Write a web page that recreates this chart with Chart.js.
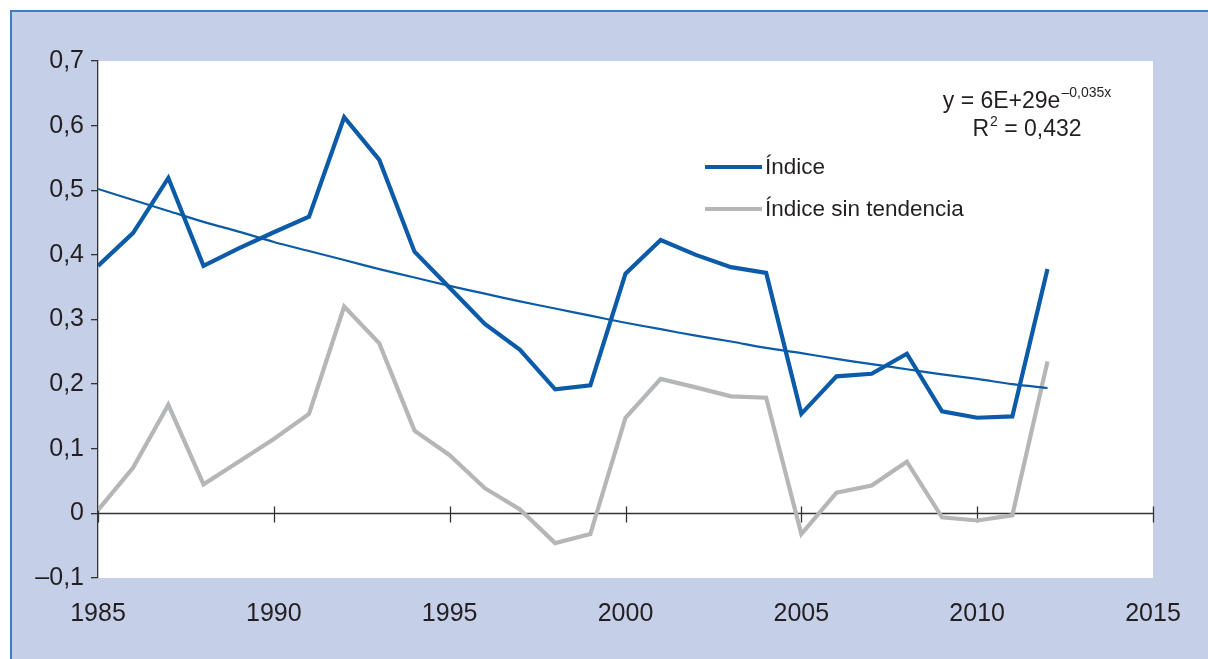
<!DOCTYPE html>
<html>
<head>
<meta charset="utf-8">
<script src="https://cdn.jsdelivr.net/npm/chart.js@4.4.1/dist/chart.umd.min.js"></script>
<style>
  html, body { margin: 0; padding: 0; background: #ffffff; }
  canvas { display: block; }
</style>
</head>
<body>
<canvas id="c" width="1208" height="659" style="width:1208px;height:659px"></canvas>
<script>
const years = [1985,1986,1987,1988,1989,1990,1991,1992,1993,1994,1995,1996,1997,1998,1999,2000,2001,2002,2003,2004,2005,2006,2007,2008,2009,2010,2011,2012];
const indice = [0.383,0.434,0.519,0.383,0.410,0.435,0.459,0.613,0.547,0.405,0.349,0.293,0.253,0.192,0.198,0.371,0.423,0.400,0.381,0.372,0.154,0.212,0.216,0.247,0.158,0.148,0.150,0.378];
const sinTendencia = [0.005,0.071,0.168,0.045,0.080,0.115,0.154,0.320,0.263,0.128,0.090,0.039,0.006,-0.046,-0.032,0.148,0.208,0.195,0.181,0.179,-0.032,0.032,0.043,0.080,-0.006,-0.011,-0.003,0.235];
const tendencia = [0.502,0.485,0.468,0.451,0.436,0.420,0.406,0.392,0.378,0.365,0.352,0.340,0.328,0.317,0.306,0.295,0.285,0.275,0.266,0.256,0.248,0.239,0.231,0.223,0.215,0.208,0.200,0.194];
const seriesLabels = ['Índice', 'Índice sin tendencia'];
const xTicks = [1985,1990,1995,2000,2005,2010,2015];
const yTicks = [-0.1,0,0.1,0.2,0.3,0.4,0.5,0.6,0.7];
const eqMain = 'y = 6E+29e';
const eqExp = '–0,035x';
const eqR2 = ' = 0,432';

const BLUE = '#0b5ba8';
const GRAY = '#b5b6b8';
const TEXT = '#231f20';
const FONT = '"Liberation Sans", Arial, sans-serif';

const pts = arr => years.map((y, i) => ({x: y, y: arr[i]}));

const bgPlugin = {
  id: 'bg',
  beforeDraw(chart) {
    const ctx = chart.ctx, a = chart.chartArea;
    ctx.save();
    ctx.fillStyle = '#ffffff';
    ctx.fillRect(0, 0, chart.width, chart.height);
    ctx.fillStyle = '#c5cfe7';
    ctx.fillRect(10, 10, chart.width - 10, chart.height - 10);
    ctx.strokeStyle = '#3d7fc6';
    ctx.lineWidth = 2;
    ctx.beginPath();
    ctx.moveTo(11, chart.height); ctx.lineTo(11, 11); ctx.lineTo(chart.width, 11);
    ctx.stroke();
    ctx.fillStyle = '#ffffff';
    ctx.fillRect(a.left, a.top, a.right - a.left, a.bottom - a.top);
    ctx.restore();
  },
  beforeDatasetsDraw(chart) {
    const ctx = chart.ctx, xs = chart.scales.x, ys = chart.scales.y;
    const y0 = Math.round(ys.getPixelForValue(0)) + 0.5;
    ctx.save();
    ctx.strokeStyle = '#333333';
    ctx.lineWidth = 1.3;
    ctx.beginPath();
    ctx.moveTo(xs.left, y0); ctx.lineTo(xs.right, y0);
    xTicks.forEach(v => {
      const px = Math.round(xs.getPixelForValue(v)) + 0.5;
      ctx.moveTo(px, y0 - 7); ctx.lineTo(px, y0 + 9);
    });
    ctx.stroke();
    ctx.restore();
  },
  afterDraw(chart) {
    const ctx = chart.ctx;
    ctx.save();
    const legendItems = [
      {label: seriesLabels[0], color: chart.data.datasets[0].borderColor, y: 167},
      {label: seriesLabels[1], color: chart.data.datasets[1].borderColor, y: 209}
    ];
    ctx.font = '22.5px ' + FONT;
    ctx.textBaseline = 'middle';
    ctx.textAlign = 'left';
    legendItems.forEach(it => {
      ctx.strokeStyle = it.color;
      ctx.lineWidth = 4;
      ctx.beginPath();
      ctx.moveTo(705, it.y); ctx.lineTo(762, it.y);
      ctx.stroke();
      ctx.fillStyle = TEXT;
      ctx.fillText(it.label, 765, it.y + 1);
    });
    ctx.textBaseline = 'alphabetic';
    ctx.fillStyle = TEXT;
    const big = '23px ' + FONT, small = '14px ' + FONT;
    ctx.font = big;
    const w1 = ctx.measureText(eqMain).width;
    ctx.font = small;
    const w2 = ctx.measureText(eqExp).width;
    const total = w1 + w2 + 1;
    const cx = 1027;
    const x0 = cx - total / 2;
    ctx.font = big;
    ctx.fillText(eqMain, x0, 108);
    ctx.font = small;
    ctx.fillText(eqExp, x0 + w1 + 1, 97);
    ctx.font = big;
    const wR = ctx.measureText('R').width;
    const wRest = ctx.measureText(eqR2).width;
    ctx.font = small;
    const w2s = ctx.measureText('2').width;
    const tot2 = wR + w2s + wRest + 1;
    const rx = cx - tot2 / 2;
    ctx.font = big;
    ctx.fillText('R', rx, 136);
    ctx.font = small;
    ctx.fillText('2', rx + wR + 1, 126);
    ctx.font = big;
    ctx.fillText(eqR2, rx + wR + w2s + 1, 136);
    ctx.restore();
  }
};

new Chart(document.getElementById('c'), {
  type: 'line',
  data: {
    datasets: [
      {label: seriesLabels[0], data: pts(indice), borderColor: BLUE, borderWidth: 4.2, pointRadius: 0, tension: 0, fill: false, order: 2},
      {label: seriesLabels[1], data: pts(sinTendencia), borderColor: GRAY, borderWidth: 4.2, pointRadius: 0, tension: 0, fill: false, order: 3},
      {label: 'Tendencia', data: pts(tendencia), borderColor: BLUE, borderWidth: 2.2, pointRadius: 0, tension: 0.3, fill: false, order: 1}
    ]
  },
  options: {
    responsive: false,
    animation: false,
    devicePixelRatio: 1,
    layout: {padding: {left: 0, top: 61, right: 55, bottom: 0}},
    plugins: {legend: {display: false}, tooltip: {enabled: false}},
    scales: {
      x: {
        type: 'linear',
        min: 1985, max: 2015,
        afterFit(s) { s.height = 81; },
        afterBuildTicks(s) { s.ticks = xTicks.map(v => ({value: v})); },
        border: {display: false},
        grid: {display: false, drawTicks: false},
        ticks: {
          autoSkip: false, maxRotation: 0, padding: 21,
          color: TEXT, font: {family: FONT, size: 25},
          callback: v => String(v)
        }
      },
      y: {
        min: -0.1, max: 0.7,
        afterFit(s) { s.width = 98; },
        afterBuildTicks(s) { s.ticks = yTicks.map(v => ({value: v})); },
        border: {display: true, color: '#333333', width: 1.3},
        grid: {display: true, drawOnChartArea: false, drawTicks: true, tickLength: 7, color: '#333333', lineWidth: 1.3},
        ticks: {
          padding: 7, color: TEXT, font: {family: FONT, size: 25},
          callback: v => {
            const r = Math.round(v * 10) / 10;
            if (r === 0) return '0';
            const s = Math.abs(r).toFixed(1).replace('.', ',');
            return r < 0 ? '–' + s : s;
          }
        }
      }
    }
  },
  plugins: [bgPlugin]
});
</script>
</body>
</html>
